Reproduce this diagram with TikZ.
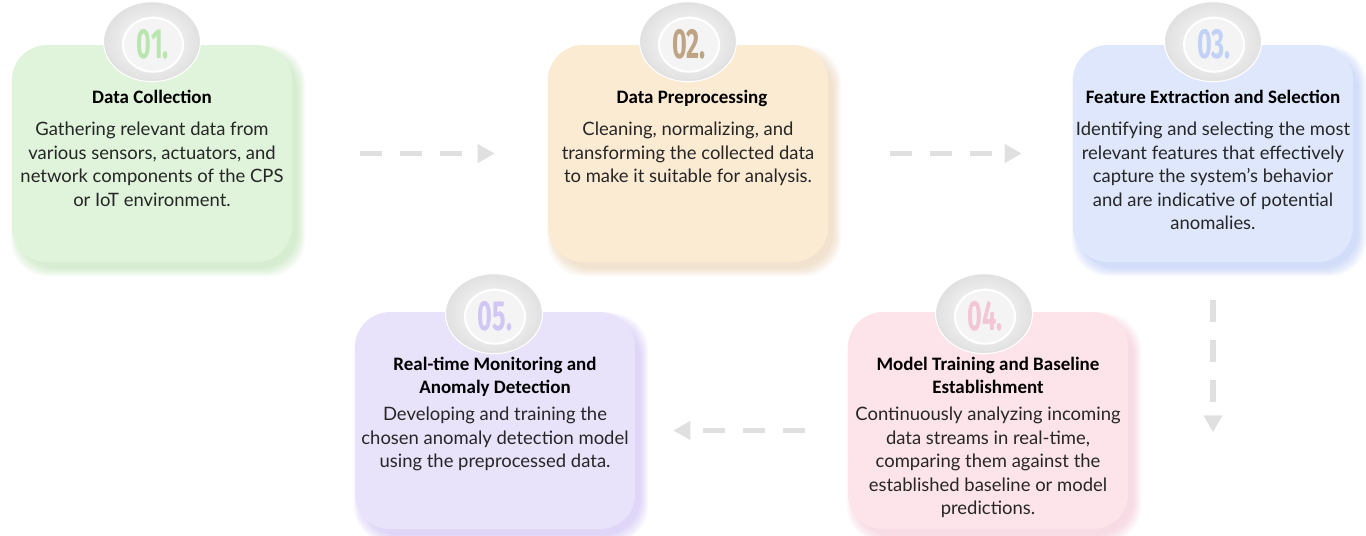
\documentclass[tikz,border=0pt]{standalone}
\usepackage{fontspec}
\setmainfont{Lato}
\newfontfamily\titlefont{Carlito}
\newfontfamily\numfont{Fira Sans}
\usetikzlibrary{shapes.geometric,arrows.meta,positioning,calc,backgrounds}

\definecolor{boxgreen}{HTML}{DFF4DA}
\definecolor{boxpeach}{HTML}{FCEBD3}
\definecolor{boxblue}{HTML}{DEE7FC}
\definecolor{boxpink}{HTML}{FDE3EA}
\definecolor{boxlilac}{HTML}{E8E3FB}
\definecolor{glowgreen}{HTML}{A8D89C}
\definecolor{glowpeach}{HTML}{E2C29A}
\definecolor{glowblue}{HTML}{9EB6F2}
\definecolor{glowpink}{HTML}{EDB3C6}
\definecolor{glowlilac}{HTML}{BBA9F0}
\definecolor{numgreen}{HTML}{B9E6AE}
\definecolor{numpeach}{HTML}{BFA385}
\definecolor{numblue}{HTML}{C2D1F7}
\definecolor{numpink}{HTML}{F2C6D5}
\definecolor{numlilac}{HTML}{D1C6F4}
\definecolor{arrowgray}{HTML}{E0E0E0}

\tikzset{
  stepbox/.style={rectangle,rounded corners=0.7cm,minimum width=5.6cm,minimum height=4.34cm,inner sep=0pt},
  badge/.style={ellipse,minimum width=1.94cm,minimum height=1.6cm,inner color=white,outer color=gray!24,draw=white,line width=0.6pt},
  badgein/.style={ellipse,minimum width=1.2cm,minimum height=1.08cm,fill=gray!9,draw=white,line width=1.2pt},
  numtxt/.style={font=\numfont\bfseries\fontsize{24}{24}\selectfont,inner sep=0pt},
  titletxt/.style={font=\titlefont\bfseries\fontsize{10.8}{13.1}\selectfont,align=center,anchor=north,inner sep=0pt},
  bodytxt/.style={font=\fontsize{10.5}{13.4}\selectfont,align=center,anchor=north,inner sep=0pt,text=black!85},
  flowarrow/.style={line width=3.4pt,draw=arrowgray,dash pattern=on 0.44cm off 0.36cm,-{Triangle[length=0.34cm,width=0.36cm,fill=arrowgray]}},
}

\newcommand{\boxglow}[2]{%
  \foreach \g in {1,...,9}
    \fill[#2,opacity=0.065,rounded corners=0.75cm]
      ($(#1.north west)+(8-\g,10-\g)$) rectangle ($(#1.south east)+(4+\g,5+\g)$);
}
\newcommand{\stepbadge}[3]{%
  \node[badge] (#1) at (#2) {};
  \node[badgein] at ($(#1)+(1,3)$) {};
  \node[numtxt,text=#3] at ($(#1)+(1,3)$) {\scalebox{0.6}[1]{\csname num#1\endcsname}};
}
\def\numone{01.}\def\numtwo{02.}\def\numthree{03.}\def\numfour{04.}\def\numfive{05.}

\begin{document}
\begin{tikzpicture}[x=0.02cm,y=-0.02cm]
\useasboundingbox (0,0) rectangle (1366,535);

\node[stepbox,fill=boxgreen] (collect) at (152,153.5) {};
\node[stepbox,fill=boxpeach] (prep) at (688,153.5) {};
\node[stepbox,fill=boxblue] (feature) at (1213,153.5) {};
\node[stepbox,fill=boxpink] (model) at (988,420.5) {};
\node[stepbox,fill=boxlilac] (realtime) at (495,420.5) {};

\begin{scope}[on background layer]
  \boxglow{collect}{glowgreen}
  \boxglow{prep}{glowpeach}
  \boxglow{feature}{glowblue}
  \boxglow{model}{glowpink}
  \boxglow{realtime}{glowlilac}
\end{scope}

\stepbadge{one}{$(collect.north)+(0,-3)$}{numgreen}
\stepbadge{two}{$(prep.north)+(0,-3)$}{numpeach}
\stepbadge{three}{$(feature.north)+(0,-3)$}{numblue}
\stepbadge{four}{$(model.north)+(-4,2)$}{numpink}
\stepbadge{five}{$(realtime.north)+(-1,2)$}{numlilac}

\node[titletxt] (t1) at ($(collect.north)+(0,45)$) {Data Collection};
\node[bodytxt] (d1) at ($(collect.north)+(0,77)$) {Gathering relevant data from\\various sensors, actuators, and\\network components of the CPS\\or IoT environment.};

\node[titletxt] (t2) at ($(prep.north)+(4,45)$) {Data Preprocessing};
\node[bodytxt] (d2) at ($(prep.north)+(0,77)$) {Cleaning, normalizing, and\\transforming the collected data\\to make it suitable for analysis.};

\node[titletxt] (t3) at ($(feature.north)+(0,45)$) {Feature Extraction and Selection};
\node[bodytxt] (d3) at ($(feature.north)+(0,77)$) {Identifying and selecting the most\\relevant features that effectively\\capture the system’s behavior\\and are indicative of potential\\anomalies.};

\node[titletxt] (t4) at ($(model.north)+(0,45)$) {Model Training and Baseline\\Establishment};
\node[bodytxt] (d4) at ($(model.north)+(0,95)$) {Continuously analyzing incoming\\data streams in real-time,\\comparing them against the\\established baseline or model\\predictions.};

\node[titletxt] (t5) at ($(realtime.north)+(0,45)$) {Real-time Monitoring and\\Anomaly Detection};
\node[bodytxt] (d5) at ($(realtime.north)+(0,95)$) {Developing and training the\\chosen anomaly detection model\\using the preprocessed data.};

\coordinate (down) at ($(feature.south)+(0,170)$);
\draw[flowarrow,shorten <=1.36cm,shorten >=1.06cm] (collect.east) -- (prep.west);
\draw[flowarrow,shorten <=1.24cm,shorten >=1.02cm] (prep.east) -- (feature.west);
\draw[flowarrow,shorten <=0.76cm] (feature.south) -- (down);
\draw[flowarrow,shorten <=0.86cm,shorten >=0.76cm] ([yshift=-0.2cm]model.west) -- ([yshift=-0.2cm]realtime.east);
\end{tikzpicture}
\end{document}
